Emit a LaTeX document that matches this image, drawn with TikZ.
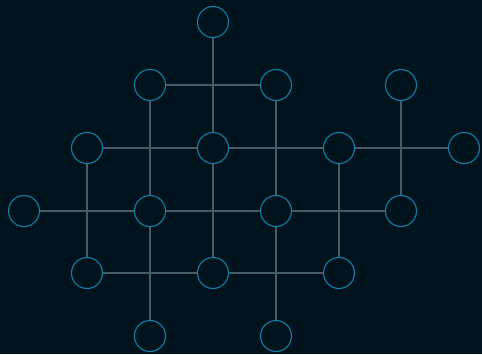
\documentclass[tikz,border=0pt]{standalone}
\usepackage{tikz}
\definecolor{bgc}{HTML}{01131D}
\definecolor{ringc}{HTML}{1180A8}
\definecolor{edgec}{HTML}{4A5B68}
\begin{document}
\begin{tikzpicture}[x=1pt,y=-1pt,
  dot/.style={circle,draw=ringc,line width=1.1pt,minimum size=31pt,inner sep=0pt,fill=bgc},
  link/.style={draw=edgec,line width=1.1pt}]
\fill[bgc] (0,0) rectangle (482,354);
\useasboundingbox (0,0) rectangle (482,354);
\node[dot] (a1) at (213,22) {};
\node[dot] (b1) at (150,85) {};
\node[dot] (b2) at (276,85) {};
\node[dot] (b3) at (401,85) {};
\node[dot] (c1) at (87,148) {};
\node[dot] (c2) at (213,148) {};
\node[dot] (c3) at (339,148) {};
\node[dot] (c4) at (464,148) {};
\node[dot] (d1) at (24,211) {};
\node[dot] (d2) at (150,211) {};
\node[dot] (d3) at (276,211) {};
\node[dot] (d4) at (401,211) {};
\node[dot] (e1) at (87,273) {};
\node[dot] (e2) at (213,273) {};
\node[dot] (e3) at (339,273) {};
\node[dot] (f1) at (150,336) {};
\node[dot] (f2) at (276,336) {};
\path[link] (a1) -- (c2);
\path[link] (c2) -- (e2);
\path[link] (b1) -- (b2);
\path[link] (b1) -- (d2);
\path[link] (d2) -- (f1);
\path[link] (b2) -- (d3);
\path[link] (d3) -- (f2);
\path[link] (b3) -- (d4);
\path[link] (c1) -- (c2);
\path[link] (c2) -- (c3);
\path[link] (c3) -- (c4);
\path[link] (c1) -- (e1);
\path[link] (c3) -- (e3);
\path[link] (d1) -- (d2);
\path[link] (d2) -- (d3);
\path[link] (d3) -- (d4);
\path[link] (e1) -- (e2);
\path[link] (e2) -- (e3);
\end{tikzpicture}
\end{document}
